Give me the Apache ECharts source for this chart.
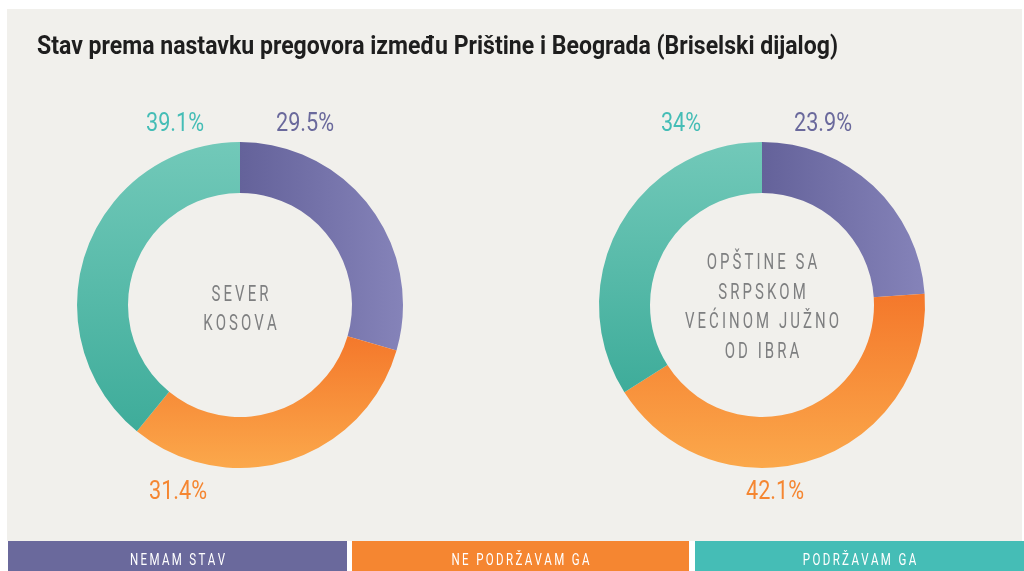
<!DOCTYPE html>
<html>
<head>
<meta charset="utf-8">
<script src="https://cdn.jsdelivr.net/npm/echarts@6/dist/echarts.min.js"></script>
<style>
    html, body { margin: 0; padding: 0; background: #ffffff; }
    #chart { width: 1024px; height: 571px; }
</style>
</head>
<body>
<div id="chart"></div>
<script>
// podaci
const categories = ['NEMAM STAV', 'NE PODRŽAVAM GA', 'PODRŽAVAM GA'];
const severKosova = [29.5, 31.4, 39.1];
const opstineJug = [23.9, 42.1, 34];
const regionNames = ['SEVER\nKOSOVA', 'OPŠTINE SA\nSRPSKOM\nVEĆINOM JUŽNO\nOD IBRA'];
const titleText = 'Stav prema nastavku pregovora između Prištine i Beograda (Briselski dijalog)';

const FONT = "Roboto, 'Liberation Sans', sans-serif";
const mainColors = ['#6a699c', '#f58631', '#45bdb6'];
const centers = [240, 762];
const centerY = 305;

// mjerenje teksta da bi se suzio (uski font nije dostupan)
const ctx = document.createElement('canvas').getContext('2d');
function textW(str, size, weight) {
    ctx.font = (weight || 'normal') + ' ' + size + 'px ' + FONT;
    return Math.max.apply(null, str.split('\n').map(function (l) { return ctx.measureText(l).width; }));
}

// razmak slova (tanki razmak)
function spaced(str) {
    return str.split('\n').map(function (line) {
        return line.split('').join('\u2009');
    }).join('\n');
}

function grad(i) {
    if (i === 0) {
        return new echarts.graphic.LinearGradient(0, 0, 1, 0, [
            { offset: 0, color: '#64629a' },
            { offset: 1, color: '#8583b9' }
        ]);
    }
    if (i === 1) {
        return new echarts.graphic.LinearGradient(0, 0, 0, 1, [
            { offset: 0, color: '#f4782b' },
            { offset: 1, color: '#fba84b' }
        ]);
    }
    return new echarts.graphic.LinearGradient(0, 0, 0, 1, [
        { offset: 0, color: '#72c9b9' },
        { offset: 1, color: '#3eac9a' }
    ]);
}

function makeSeries(values, idx) {
    return {
        type: 'pie',
        center: [centers[idx], centerY],
        radius: [112, 163],
        startAngle: 90,
        clockwise: true,
        silent: true,
        label: { show: false },
        labelLine: { show: false },
        data: values.map(function (v, i) {
            return {
                name: categories[i],
                value: v,
                itemStyle: { color: grad(i) }
            };
        })
    };
}

const chart = echarts.init(document.getElementById('chart'));

const graphics = [
    {
        type: 'rect',
        shape: { x: 7, y: 9, width: 1015, height: 532 },
        style: { fill: '#f1f0ec' },
        z: -10
    }
];

// naslov
const titleSize = 25;
graphics.push({
    type: 'text',
    x: 37,
    y: 48,
    scaleX: 801 / textW(titleText, titleSize, 'bold'),
    style: {
        text: titleText,
        fontFamily: FONT,
        fontSize: titleSize,
        fontWeight: 'bold',
        fill: '#1e1e1e',
        align: 'left',
        verticalAlign: 'middle'
    }
});

// procenti (dx od centra, y)
const labelPos = [
    [[65, 124], [-62, 492], [-65, 124]],
    [[61, 124], [13, 492], [-81, 124]]
];
const pctSize = 26;
const pctScale = 58 / textW('29.5%', pctSize);
[severKosova, opstineJug].forEach(function (vals, s) {
    vals.forEach(function (v, i) {
        graphics.push({
            type: 'text',
            x: centers[s] + labelPos[s][i][0],
            y: labelPos[s][i][1],
            scaleX: pctScale,
            style: {
                text: v + '%',
                fontFamily: FONT,
                fontSize: pctSize,
                fill: mainColors[i],
                align: 'center',
                verticalAlign: 'middle'
            }
        });
    });
});

// centralni natpisi
const centerSize = 22;
const centerScale = 154 / textW(spaced('VEĆINOM JUŽNO'), centerSize);
const centerTextY = [310, 308];
regionNames.forEach(function (name, i) {
    graphics.push({
        type: 'text',
        x: centers[i],
        y: centerTextY[i],
        scaleX: centerScale,
        style: {
            text: spaced(name),
            fontFamily: FONT,
            fontSize: centerSize,
            lineHeight: 29.5,
            fill: '#7e7f80',
            align: 'center',
            verticalAlign: 'middle'
        }
    });
});

// legenda na dnu
const legendX = [[8, 347], [352, 689], [695, 1024]];
const legSize = 17;
const legScale = 95 / textW(spaced('NEMAM STAV'), legSize);
categories.forEach(function (c, i) {
    graphics.push({
        type: 'rect',
        shape: { x: legendX[i][0], y: 541, width: legendX[i][1] - legendX[i][0], height: 30 },
        style: { fill: mainColors[i] }
    });
    graphics.push({
        type: 'text',
        x: (legendX[i][0] + legendX[i][1]) / 2,
        y: 561,
        scaleX: legScale,
        style: {
            text: spaced(c),
            fontFamily: FONT,
            fontSize: legSize,
            fill: '#ffffff',
            align: 'center',
            verticalAlign: 'middle'
        }
    });
});

const option = {
    backgroundColor: '#ffffff',
    animation: false,
    graphic: graphics,
    series: [makeSeries(severKosova, 0), makeSeries(opstineJug, 1)]
};

chart.setOption(option);
</script>
</body>
</html>
